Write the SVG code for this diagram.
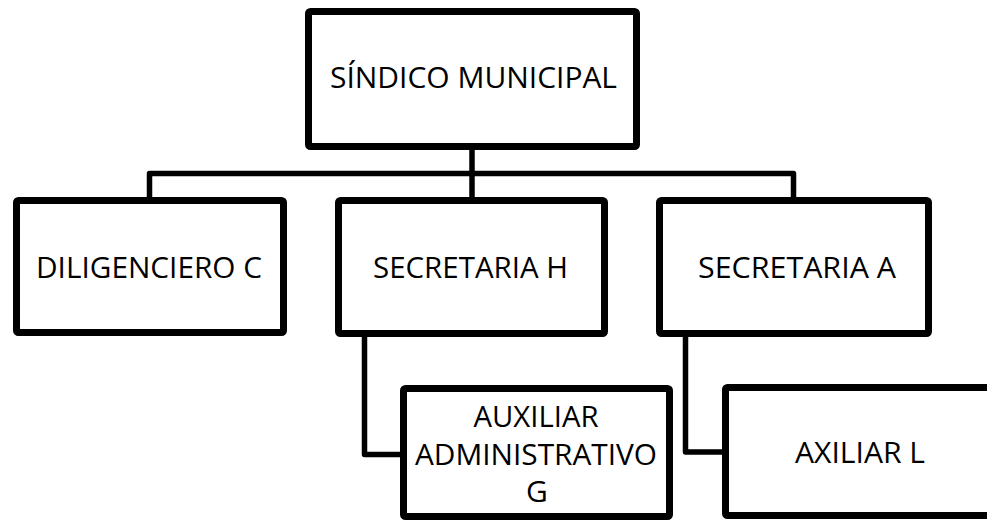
<svg xmlns="http://www.w3.org/2000/svg" width="987" height="522" viewBox="0 0 987 522">
<style>
.box{fill:#fff;stroke:#000;stroke-width:7;stroke-linejoin:round}
.conn{fill:none;stroke:#000;stroke-width:5.5;stroke-linejoin:round}
.t{font-family:"Open Sans","Noto Sans","Liberation Sans",sans-serif;font-size:30px;fill:#000;text-anchor:middle}
</style>
<rect x="0" y="0" width="987" height="522" fill="#fff"/>
<g id="connectors">
<path class="conn" d="M472,150 V173.5"/>
<path class="conn" d="M149.5,197 V173.5 H793.5 V197"/>
<path class="conn" d="M472,173.5 V197"/>
<path class="conn" d="M364.5,336 V454.5 H400"/>
<path class="conn" d="M685.5,336 V452 H722"/>
</g>
<g id="sindico">
<rect class="box" x="308.5" y="11.5" width="328" height="135" rx="2"/>
<text class="t" x="473.5" y="88" textLength="287" lengthAdjust="spacingAndGlyphs">SÍNDICO MUNICIPAL</text>
</g>
<g id="diligenciero">
<rect class="box" x="16.5" y="200.5" width="267" height="132" rx="2"/>
<text class="t" x="149" y="278" textLength="226" lengthAdjust="spacingAndGlyphs">DILIGENCIERO C</text>
</g>
<g id="secretaria-h">
<rect class="box" x="338.5" y="200.5" width="266" height="133" rx="2"/>
<text class="t" x="470.5" y="278" textLength="195" lengthAdjust="spacingAndGlyphs">SECRETARIA H</text>
</g>
<g id="secretaria-a">
<rect class="box" x="659.5" y="200.5" width="269" height="133" rx="2"/>
<text class="t" x="797" y="278" textLength="198" lengthAdjust="spacingAndGlyphs">SECRETARIA A</text>
</g>
<g id="auxiliar-g">
<rect class="box" x="403.5" y="388.5" width="266" height="128" rx="2"/>
<text class="t" x="536" y="427" textLength="125" lengthAdjust="spacingAndGlyphs">AUXILIAR</text>
<text class="t" x="536" y="465" textLength="242" lengthAdjust="spacingAndGlyphs">ADMINISTRATIVO</text>
<text class="t" x="537" y="502">G</text>
</g>
<g id="axiliar-l">
<rect class="box" x="725.5" y="387.5" width="300" height="128" rx="2"/>
<text class="t" x="860" y="463" textLength="130" lengthAdjust="spacingAndGlyphs">AXILIAR L</text>
</g>
</svg>
